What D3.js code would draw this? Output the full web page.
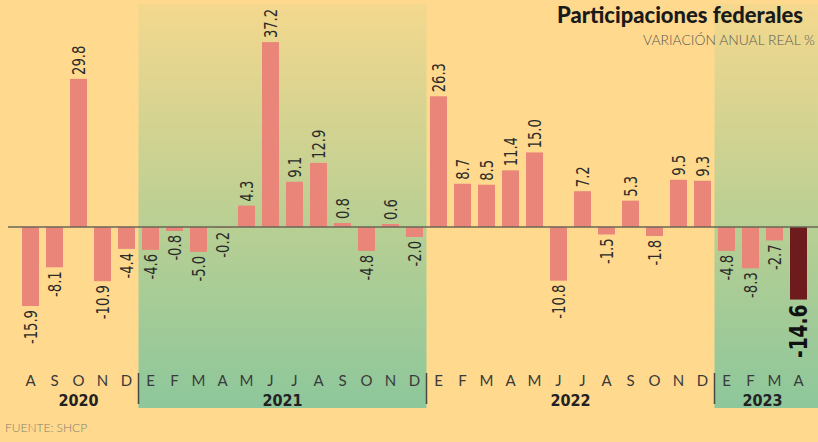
<!DOCTYPE html>
<html>
<head>
<meta charset="utf-8">
<script src="https://cdn.jsdelivr.net/npm/d3@7"></script>
<style>
  html, body { margin: 0; padding: 0; background: #FED98E; overflow: hidden; }
  svg { display: block; }
</style>
</head>
<body>
<svg id="chart" width="818" height="442"></svg>
<script>
// ---- data ----
const months = ["A","S","O","N","D",
  "E","F","M","A","M","J","J","A","S","O","N","D",
  "E","F","M","A","M","J","J","A","S","O","N","D",
  "E","F","M","A"];
const values = [-15.9, -8.1, 29.8, -10.9, -4.4,
  -4.6, -0.8, -5.0, -0.2, 4.3, 37.2, 9.1, 12.9, 0.8, -4.8, 0.6, -2.0,
  26.3, 8.7, 8.5, 11.4, 15.0, -10.8, 7.2, -1.5, 5.3, -1.8, 9.5, 9.3,
  -4.8, -8.3, -2.7, -14.6];
const years = ["2020", "2021", "2022", "2023"];
const yearStart = [0, 5, 17, 29];
const yearEnd = [4, 16, 28, 32];
const shadedYears = [1, 3];
const title = "Participaciones federales";
const subtitle = "VARIACIÓN ANUAL REAL %";
const source = "FUENTE: SHCP";

// ---- drawing ----
const W = 818, H = 442;
const svg = d3.select("#chart");
const idx = d3.range(values.length);

const x = d3.scaleBand().domain(idx).range([18.5, 810.5])
  .paddingInner(7 / 24).paddingOuter(3.5 / 24);
const gap = x.step() - x.bandwidth();
const pxPerUnit = 4.97;
const base = 227;
const y = d3.scaleLinear().domain([-30, 40]).range([base + 30 * pxPerUnit, base - 40 * pxPerUnit]);

const defs = svg.append("defs");
const grad = defs.append("linearGradient").attr("id", "g").attr("gradientUnits", "userSpaceOnUse")
  .attr("x1", 0).attr("x2", 0).attr("y1", 4).attr("y2", 408);
grad.append("stop").attr("offset", 0).attr("stop-color", "#F4D88E");
grad.append("stop").attr("offset", 0.55).attr("stop-color", "#B8CF93");
grad.append("stop").attr("offset", 1).attr("stop-color", "#8DC79B");

svg.append("rect").attr("width", W).attr("height", H).attr("fill", "#FED98E");

// shaded year regions
shadedYears.forEach(k => {
  const x0 = x(yearStart[k]) - gap / 2;
  const x1 = yearEnd[k] === values.length - 1 ? W : x(yearEnd[k]) + x.bandwidth() + gap / 2;
  svg.append("rect").attr("x", x0).attr("y", 4).attr("width", x1 - x0).attr("height", 404)
    .attr("fill", "url(#g)");
});

// bars
const last = values.length - 1;
svg.append("g").selectAll("rect").data(idx).join("rect")
  .attr("x", i => x(i))
  .attr("width", x.bandwidth())
  .attr("y", i => Math.min(y(values[i]), y(0)))
  .attr("height", i => Math.abs(y(values[i]) - y(0)))
  .attr("fill", i => i === last ? "#6E1B1D" : "#E98579");

// baseline
svg.append("line").attr("x1", 8).attr("x2", W).attr("y1", y(0)).attr("y2", y(0))
  .attr("stroke", "#6A6656").attr("stroke-width", 1.3);

// value labels
svg.append("g").selectAll("text").data(idx).join("text")
  .attr("transform", i => {
    const cx = x(i) + x.bandwidth() / 2;
    const v = values[i];
    const yy = v >= 0 ? y(v) - 4 : y(v) + (i === last ? 5 : 4);
    return `translate(${cx},${yy}) rotate(-90) scale(0.86,1)`;
  })
  .attr("dy", "0.36em")
  .attr("text-anchor", i => values[i] >= 0 ? "start" : "end")
  .attr("font-family", "'DejaVu Sans Condensed', 'DejaVu Sans', sans-serif")
  .attr("font-stretch", "condensed")
  .attr("font-size", i => i === last ? 24 : 17)
  .attr("font-weight", i => i === last ? "bold" : "normal")
  .attr("fill", i => i === last ? "#111" : "#2a2a2a")
  .text(i => values[i].toFixed(1));

// month labels
svg.append("g").selectAll("text").data(idx).join("text")
  .attr("x", i => x(i) + x.bandwidth() / 2)
  .attr("y", 386)
  .attr("text-anchor", "middle")
  .attr("font-family", "Lato, 'DejaVu Sans', sans-serif")
  .attr("font-size", 15)
  .attr("fill", "#3a3a3a")
  .text(i => months[i]);

// year separators
yearStart.slice(1).forEach(s => {
  const sx = x(s) - gap / 2;
  svg.append("line").attr("x1", sx).attr("x2", sx).attr("y1", 373).attr("y2", 404)
    .attr("stroke", "#4a4a40").attr("stroke-width", 1.5);
});

// year labels
years.forEach((yr, k) => {
  const cx = (x(yearStart[k]) + x(yearEnd[k]) + x.bandwidth()) / 2;
  svg.append("text").attr("x", cx).attr("y", 406).attr("text-anchor", "middle")
    .attr("font-family", "'DejaVu Sans Condensed', 'DejaVu Sans', sans-serif")
    .attr("font-stretch", "condensed")
    .attr("font-weight", "bold").attr("font-size", 16).attr("fill", "#222")
    .text(yr);
});

// title
const t = svg.append("text").attr("x", 557).attr("y", 23)
  .attr("font-family", "Lato, 'DejaVu Sans', sans-serif")
  .attr("font-weight", "900").attr("font-size", 20).attr("fill", "#1a1a1a")
  .text(title);
const tw = t.node().getComputedTextLength();
t.attr("font-size", 20 * 246 / tw);

const st = svg.append("text").attr("x", 643).attr("y", 45)
  .attr("font-family", "Lato, 'DejaVu Sans', sans-serif")
  .attr("font-weight", "300").attr("font-size", 13).attr("fill", "#5a5a55")
  .text(subtitle);
const sw = st.node().getComputedTextLength();
st.attr("font-size", 13 * 172 / sw);

svg.append("text").attr("x", 5).attr("y", 432)
  .attr("font-family", "Lato, 'DejaVu Sans', sans-serif")
  .attr("font-weight", "300").attr("font-size", 12).attr("fill", "#85806f")
  .text(source);
</script>
</body>
</html>
